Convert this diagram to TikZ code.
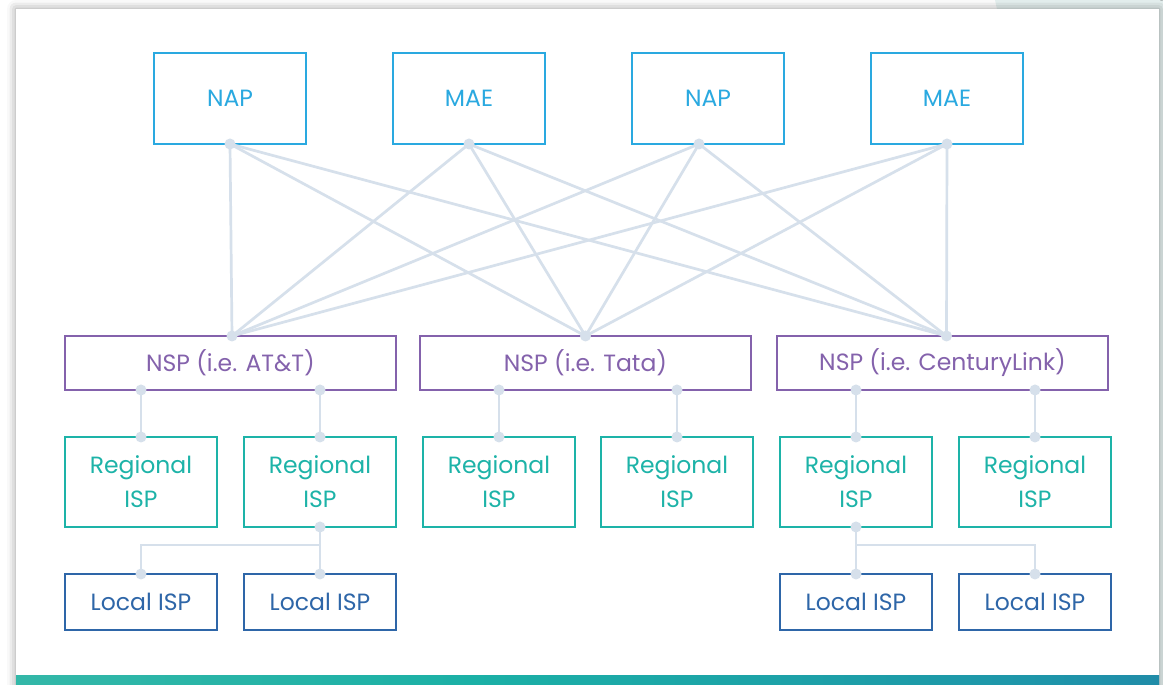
\documentclass[tikz,border=0pt]{standalone}
\usepackage{fontspec}
\setmainfont{Poppins}
\usetikzlibrary{positioning}
\usetikzlibrary{shadows.blur}

\definecolor{napblue}{HTML}{2AA9E0}
\definecolor{nsppurple}{HTML}{8462AC}
\definecolor{regteal}{HTML}{1DB3A8}
\definecolor{locblue}{HTML}{2E66A8}
\definecolor{linkgray}{HTML}{D6E0EB}
\definecolor{backteal}{HTML}{E8F3F2}
\definecolor{barleft}{HTML}{52C1AB}
\definecolor{barmid}{HTML}{1BB0A6}
\definecolor{bardeep}{HTML}{1E95A9}
\definecolor{barright}{HTML}{2A5FA5}
\pgfdeclarehorizontalshading{barshade}{100bp}{color(0bp)=(barleft); color(45bp)=(barmid); color(70bp)=(bardeep); color(100bp)=(barright)}

\begin{document}
\begin{tikzpicture}[
		x=1pt, y=1pt,
		every node/.style={
			rectangle,
			draw,
			line width=2.9pt,
			outer sep=0pt,
			align=center,
			font=\fontsize{23.5}{34}\selectfont
		},
		exchange/.style={
			draw=napblue,
			text=napblue,
			minimum width=152pt,
			minimum height=91pt
		},
		backbone/.style={
			draw=nsppurple,
			text=nsppurple,
			minimum width=331pt,
			minimum height=54pt
		},
		regional/.style={
			draw=regteal,
			text=regteal,
			minimum width=152pt,
			minimum height=90pt
		},
		localisp/.style={
			draw=locblue,
			text=locblue,
			minimum width=152pt,
			minimum height=56pt
		},
		link/.style={
			draw=linkgray,
			line width=2.7pt
		}]

		\useasboundingbox (0,0) rectangle (1163,685);

		%card
		\fill[backteal] (995,685) -- (1163,685) -- (1163,0) -- (1140,0) -- cycle;
		\fill[white, blur shadow={shadow xshift=0pt, shadow yshift=0pt, shadow blur radius=9pt, shadow opacity=40}] (16,0) rectangle (1159,676);
		\shade[shading=barshade] (16,0) rectangle (1159,9);

		%exchange points
		\node[exchange] at (230,586.5) (nap1) {NAP};
		\node[exchange, right=87pt of nap1] (mae1) {MAE};
		\node[exchange, right=87pt of mae1] (nap2) {NAP};
		\node[exchange, right=87pt of nap2] (mae2) {MAE};

		%backbones
		\node[backbone] at (230.5,322) (nsp1) {NSP (i.e. AT\&T)};
		\node[backbone, right=24pt of nsp1] (nsp2) {NSP (i.e. Tata)};
		\node[backbone, right=26pt of nsp2] (nsp3) {NSP (i.e. CenturyLink)};

		%regional
		\node[regional] at (141,203) (r1) {Regional\\ISP};
		\node[regional, right=27pt of r1] (r2) {Regional\\ISP};
		\node[regional, right=27pt of r2] (r3) {Regional\\ISP};
		\node[regional, right=26pt of r3] (r4) {Regional\\ISP};
		\node[regional, right=27pt of r4] (r5) {Regional\\ISP};
		\node[regional, right=27pt of r5] (r6) {Regional\\ISP};

		%local
		\node[localisp, below=47pt of r1] (l1) {Local ISP};
		\node[localisp, below=47pt of r2] (l2) {Local ISP};
		\node[localisp, below=47pt of r5] (l5) {Local ISP};
		\node[localisp, below=47pt of r6] (l6) {Local ISP};

		\coordinate (t1) at (nap1.south);
		\coordinate (t2) at (mae1.south);
		\coordinate (t3) at ([xshift=-9pt]nap2.south);
		\coordinate (t4) at (mae2.south);
		\coordinate (b1) at ([xshift=1.5pt]nsp1.north);
		\coordinate (b2) at (nsp2.north);
		\coordinate (b3) at ([xshift=4pt]nsp3.north);

		\foreach \t in {t1,t2,t3,t4} {
			\foreach \b in {b1,b2,b3} {
				\draw[link] (\t) -- (\b);
			}
		}

		\draw[link] (r1.north |- nsp1.south) -- (r1.north);
		\draw[link] (r2.north |- nsp1.south) -- (r2.north);
		\draw[link] (r3.north |- nsp2.south) -- (r3.north);
		\draw[link] (r4.north |- nsp2.south) -- (r4.north);
		\draw[link] (r5.north |- nsp3.south) -- (r5.north);
		\draw[link] (r6.north |- nsp3.south) -- (r6.north);

		\draw[link] (r2.south) -- (l2.north);
		\draw[link] (l1.north) |- ([yshift=-18pt]r2.south);
		\draw[link] (r5.south) -- (l5.north);
		\draw[link] (l6.north) |- ([yshift=-18pt]r5.south);

		%dots
		\foreach \p in {t1,t2,t3,t4,b1,b2,b3,r1.north,r2.north,r3.north,r4.north,r5.north,r6.north,r2.south,r5.south,l1.north,l2.north,l5.north,l6.north}
			\fill[linkgray] (\p) circle (5.5pt);
		\fill[linkgray] (r1.north |- nsp1.south) circle (5.5pt);
		\fill[linkgray] (r2.north |- nsp1.south) circle (5.5pt);
		\fill[linkgray] (r3.north |- nsp2.south) circle (5.5pt);
		\fill[linkgray] (r4.north |- nsp2.south) circle (5.5pt);
		\fill[linkgray] (r5.north |- nsp3.south) circle (5.5pt);
		\fill[linkgray] (r6.north |- nsp3.south) circle (5.5pt);

	\end{tikzpicture}
\end{document}
